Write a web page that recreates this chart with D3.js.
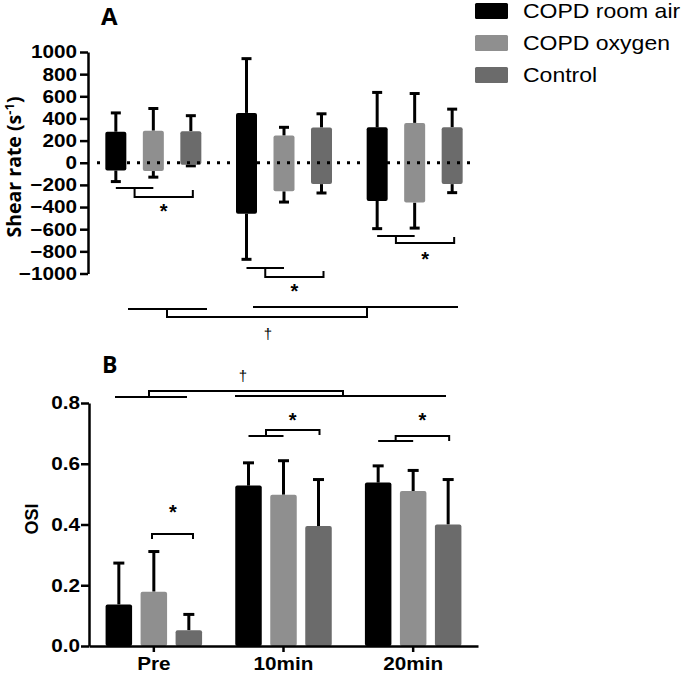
<!DOCTYPE html>
<html><head><meta charset="utf-8">
<script src="https://cdn.jsdelivr.net/npm/d3@7"></script>
<style>body{margin:0;background:#fff}svg{display:block}</style>
</head><body>
<script>
// ---------- data ----------
const groups = ["Pre", "10min", "20min"];
const series = ["COPD room air", "COPD oxygen", "Control"];
const seriesColors = ["#000000", "#8f8f8f", "#6b6b6b"];

// Panel A : shear rate (s^-1), antegrade (positive) and retrograde (negative) means with SD
const shearTicks = [-1000, -800, -600, -400, -200, 0, 200, 400, 600, 800, 1000];
const anteMean = [[280, 450, 320], [290, 245, 360], [285, 318, 320]];
const anteSD   = [[170, 490, 315], [200, 75, 265], [140, 124, 164]];
const retroMean = [[-70, -460, -345], [-75, -258, -360], [-18, -193, -193]];
const retroSD   = [[100, 412, 250], [55, 97, 230], [10, 80, 77]];

// Panel B : OSI mean with SD
const osiTicks = [0, 0.2, 0.4, 0.6, 0.8];
const osiMean = [[0.137, 0.528, 0.538], [0.179, 0.498, 0.510], [0.052, 0.395, 0.400]];
const osiSD   = [[0.136, 0.075, 0.055], [0.132, 0.112, 0.068], [0.052, 0.153, 0.148]];

// ---------- setup ----------
const W = 685, H = 673;
const FONT = "'Liberation Sans', Arial, sans-serif";
const FONT2 = "'Open Sans', 'Liberation Sans', sans-serif";
const TS = 1.12; // horizontal stretch of tick labels
const svg = d3.select("body").append("svg").attr("width", W).attr("height", H)
  .style("background", "#fff");

function styleAxis(g) {
  g.select(".domain").attr("stroke", "#000").attr("stroke-width", 2.5);
  g.selectAll(".tick line").attr("stroke", "#000").attr("stroke-width", 2.5);
  g.selectAll(".tick text").attr("fill", "#000")
    .style("font-family", FONT).style("font-weight", "bold").style("font-size", "18.5px");
}
function stretchY(g, gap) {
  g.selectAll(".tick text").attr("x", -gap / TS).attr("transform", `scale(${TS},1)`);
}

// ---------- Panel A ----------
const yA = d3.scaleLinear().domain([-1000, 1000]).range([273.5, 52]);
const xA = d3.scaleBand().domain(groups).range([88, 480]);
const offA = d3.scalePoint().domain(series).range([-37.5, 37.5]);
const bwA = 21, capA = 10;

const gA = svg.append("g");
gA.append("g").attr("transform", "translate(88,0)")
  .call(d3.axisLeft(yA).tickValues(shearTicks).tickFormat(d3.format("d")).tickSize(8).tickSizeOuter(0).tickPadding(2))
  .call(styleAxis)
  .call(g => stretchY(g, 11));

series.forEach((s, i) => {
  groups.forEach((g, j) => {
    const cx = xA(g) + xA.bandwidth() / 2 + offA(s);
    const top = anteMean[i][j], bot = retroMean[i][j];
    const wt = top + anteSD[i][j], wb = bot - retroSD[i][j];
    const eb = gA.append("g").attr("stroke", "#000").attr("stroke-width", 3);
    eb.append("line").attr("x1", cx).attr("x2", cx).attr("y1", yA(top)).attr("y2", yA(wt));
    eb.append("line").attr("x1", cx - capA / 2).attr("x2", cx + capA / 2).attr("y1", yA(wt)).attr("y2", yA(wt));
    eb.append("line").attr("x1", cx).attr("x2", cx).attr("y1", yA(bot)).attr("y2", yA(wb));
    eb.append("line").attr("x1", cx - capA / 2).attr("x2", cx + capA / 2).attr("y1", yA(wb)).attr("y2", yA(wb));
    gA.append("rect").attr("x", cx - bwA / 2).attr("y", yA(top))
      .attr("width", bwA).attr("height", yA(bot) - yA(top))
      .attr("rx", 2).attr("fill", seriesColors[i]);
  });
});

// dotted zero line
gA.append("line").attr("x1", 97).attr("x2", 475).attr("y1", yA(0)).attr("y2", yA(0))
  .attr("stroke", "#000").attr("stroke-width", 3).attr("stroke-dasharray", "3,7");

function star(g, x, cy) {
  g.append("text").attr("x", x).attr("y", cy + 11).attr("text-anchor", "middle").attr("fill", "#000")
    .style("font-family", FONT).style("font-weight", "bold").style("font-size", "20px").text("*");
}
function dagger(g, x, base) {
  g.append("text").attr("x", x).attr("y", base)
    .attr("text-anchor", "middle").attr("fill", "#000").attr("opacity", 0.99)
    .style("font-family", FONT).style("font-size", "15px").text("\u2020");
}
function seg(g, x1, x2, y) {
  g.append("line").attr("x1", x1).attr("x2", x2).attr("y1", y).attr("y2", y)
    .attr("stroke", "#000").attr("stroke-width", 2);
}
function pth(g, d) {
  g.append("path").attr("d", d).attr("fill", "none").attr("stroke", "#000").attr("stroke-width", 2);
}

// significance brackets panel A
const sigA = [
  {g: "Pre", line: 188, br: 197, end: 190, st: 207},
  {g: "10min", line: 268, br: 277, end: 271, st: 287},
  {g: "20min", line: 236, br: 243, end: 237, st: 255}
];
sigA.forEach(d => {
  const c = xA(d.g) + xA.bandwidth() / 2;
  const x0 = c + offA(series[0]), x1 = c + offA(series[1]), x2 = c + offA(series[2]) + 2;
  seg(gA, x0, x1, d.line);
  const mid = (x0 + x1) / 2;
  pth(gA, `M${mid},${d.line}V${d.br}H${x2}V${d.end}`);
  star(gA, (mid + x2) / 2, d.st);
});
// big dagger bracket below A
seg(gA, 128, 207, 309);
seg(gA, 253, 458, 307);
pth(gA, "M167,309V317H367V308");
dagger(gA, 268, 339);

// labels A
svg.append("text").attr("transform", "translate(21,167) rotate(-90)").attr("text-anchor", "middle")
  .style("font-family", FONT2).style("font-weight", "bold").style("font-size", "19.5px")
  .call(t => {
    t.append("tspan").text("Shear rate (s");
    t.append("tspan").attr("dy", -7).style("font-size", "13px").text("-1");
    t.append("tspan").attr("dy", 7).text(")");
  });
svg.append("text").attr("x", 101).attr("y", 25)
  .style("font-family", FONT2).style("font-weight", "bold").style("font-size", "24px").text("A");

// legend
series.forEach((s, i) => {
  const y = 3 + i * 32;
  svg.append("rect").attr("x", 475).attr("y", y).attr("width", 33).attr("height", 16)
    .attr("rx", 1.5).attr("fill", seriesColors[i]);
  svg.append("text").attr("transform", `translate(523,${y + 15}) scale(1.15,1)`)
    .style("font-family", FONT).style("font-size", "20px").text(s);
});

// ---------- Panel B ----------
const yB = d3.scaleLinear().domain([0, 0.8]).range([646, 403]);
const xB = d3.scaleBand().domain(groups).range([89, 478]);
const offB = d3.scalePoint().domain(series).range([-35, 35]);
const bwB = 26.5, capB = 11;

const gB = svg.append("g");
series.forEach((s, i) => {
  groups.forEach((g, j) => {
    const cx = xB(g) + xB.bandwidth() / 2 + offB(s);
    const m = osiMean[i][j], wt = m + osiSD[i][j];
    const eb = gB.append("g").attr("stroke", "#000").attr("stroke-width", 3);
    eb.append("line").attr("x1", cx).attr("x2", cx).attr("y1", yB(m)).attr("y2", yB(wt));
    eb.append("line").attr("x1", cx - capB / 2).attr("x2", cx + capB / 2).attr("y1", yB(wt)).attr("y2", yB(wt));
    gB.append("rect").attr("x", cx - bwB / 2).attr("y", yB(m))
      .attr("width", bwB).attr("height", yB(0) - yB(m))
      .attr("rx", 2).attr("fill", seriesColors[i]);
  });
});
gB.append("g").attr("transform", "translate(89,0)")
  .call(d3.axisLeft(yB).tickValues(osiTicks).tickFormat(d3.format(".1f")).tickSize(8).tickSizeOuter(0).tickPadding(1))
  .call(styleAxis)
  .call(g => stretchY(g, 9));
gB.append("g").attr("transform", "translate(0,646)")
  .call(d3.axisBottom(xB).tickSize(6).tickSizeOuter(0).tickPadding(5))
  .call(styleAxis)
  .call(g => g.selectAll(".tick text").attr("transform", "scale(1.12,1)"));

// significance panel B
pth(gB, "M152,539V534H193V539");
star(gB, 173, 508);
[{g: "10min", line: 436, top: 430, end: 435}, {g: "20min", line: 441, top: 436, end: 441}].forEach(d => {
  const c = xB(d.g) + xB.bandwidth() / 2;
  const x0 = c + offB(series[0]), x1 = c + offB(series[1]), x2 = c + offB(series[2]) + 1;
  seg(gB, x0, x1, d.line);
  const mid = (x0 + x1) / 2;
  pth(gB, `M${mid},${d.line}V${d.top}H${x2}V${d.end}`);
  star(gB, (mid + x2) / 2, 416);
});
seg(gB, 115, 187, 397);
seg(gB, 235, 446, 396);
pth(gB, "M149,397V391H343V396");
dagger(gB, 243, 381);

svg.append("text").attr("transform", "translate(38,519) rotate(-90)").attr("text-anchor", "middle")
  .style("font-family", FONT).style("font-weight", "bold").style("font-size", "18px").text("OSI");
svg.append("text").attr("x", 102).attr("y", 373)
  .style("font-family", FONT2).style("font-weight", "bold").style("font-size", "23px").text("B");
</script>
</body></html>
